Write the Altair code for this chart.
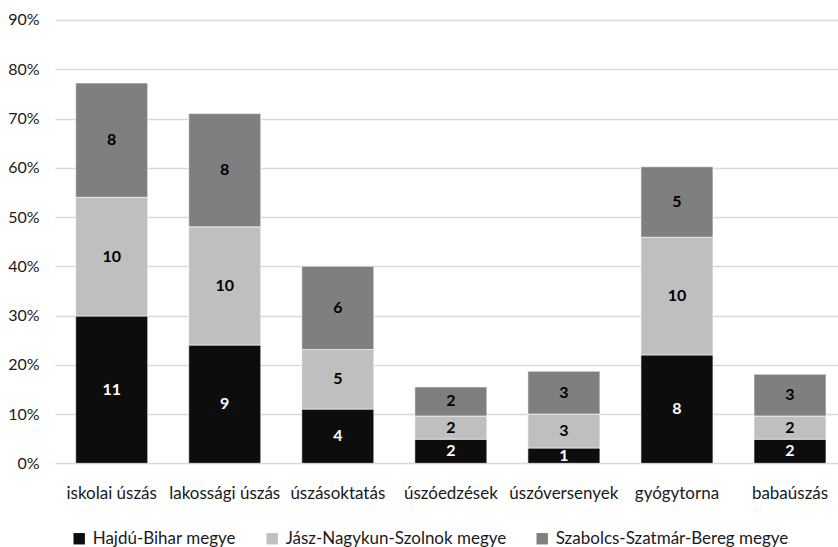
import altair as alt
import pandas as pd

categories = ["iskolai úszás", "lakossági úszás", "úszásoktatás", "úszóedzések",
              "úszóversenyek", "gyógytorna", "babaúszás"]
series = ["Hajdú-Bihar megye", "Jász-Nagykun-Szolnok megye", "Szabolcs-Szatmár-Bereg megye"]
colors = ["#0d0d0d", "#bfbfbf", "#7f7f7f"]
label_colors = ["#ffffff", "#000000", "#000000"]

# percentage share (segment heights) per series
hajdu_pct = [29.9, 24.0, 11.0, 4.9, 3.1, 22.0, 4.9]
jasz_pct = [24.1, 24.0, 12.1, 4.7, 6.9, 23.9, 4.7]
szabolcs_pct = [23.2, 23.0, 16.9, 5.9, 8.7, 14.3, 8.5]

# counts shown as labels
hajdu_n = [11, 9, 4, 2, 1, 8, 2]
jasz_n = [10, 10, 5, 2, 3, 10, 2]
szabolcs_n = [8, 8, 6, 2, 3, 5, 3]

rows = []
for si, (pcts, ns) in enumerate([(hajdu_pct, hajdu_n), (jasz_pct, jasz_n), (szabolcs_pct, szabolcs_n)]):
    for c, p, n in zip(categories, pcts, ns):
        rows.append({"category": c, "series": series[si], "order": si,
                     "value": p / 100.0, "count": n, "lc": label_colors[si]})
df = pd.DataFrame(rows)

font = "Lato"
txt = "#1a1a1a"

base = alt.Chart(df).transform_stack(
    stack="value", groupby=["category"], as_=["y0", "y1"],
    sort=[alt.SortField("order", order="ascending")]
).transform_calculate(mid="(datum.y0 + datum.y1) / 2")

xenc = alt.X("category:N", sort=categories, title=None,
             scale=alt.Scale(range=[0, 791.7], paddingInner=0.363, paddingOuter=0.183),
             axis=alt.Axis(labelAngle=0, labelFont=font, labelFontSize=17, labelColor=txt,
                           labelPadding=22, ticks=False, domain=False, grid=False, labelLimit=200))

bars = base.mark_bar(stroke="#ffffff", strokeWidth=0.6).encode(
    x=xenc,
    y=alt.Y("y0:Q", title=None,
            scale=alt.Scale(domain=[0, 0.9], nice=False),
            axis=alt.Axis(format=".0%", values=[i / 10 for i in range(10)], labelFont=font,
                          labelFontSize=16, labelColor=txt, labelPadding=16,
                          ticks=False, domain=False, gridColor="#d9d9d9", gridWidth=1.3)),
    y2="y1:Q",
    color=alt.Color("series:N", sort=series,
                    scale=alt.Scale(domain=series, range=colors),
                    legend=alt.Legend(title=None, orient="none", direction="horizontal",
                                      legendX=15.7, legendY=510, symbolType="square",
                                      symbolSize=130, symbolStrokeWidth=0, labelFont=font,
                                      labelFontSize=17, labelColor=txt, columnPadding=27,
                                      labelLimit=400, symbolOffset=0, labelOffset=5)),
    order=alt.Order("order:Q"),
)

labels = base.mark_text(font=font, fontWeight="bold", fontSize=16, baseline="middle").encode(
    x=alt.X("category:N", sort=categories),
    y=alt.Y("mid:Q"),
    text=alt.Text("count:Q"),
    color=alt.Color("lc:N", scale=None),
)

chart = alt.layer(bars, labels).properties(
    width=783, height=443.3,
    autosize=alt.AutoSizeParams(type="none"),
    padding={"left": 55, "top": 20, "right": 0, "bottom": 84},
    background="#ffffff",
).configure_view(stroke=None)

chart.save("out.html", embed_options={"renderer": "svg", "actions": False})
